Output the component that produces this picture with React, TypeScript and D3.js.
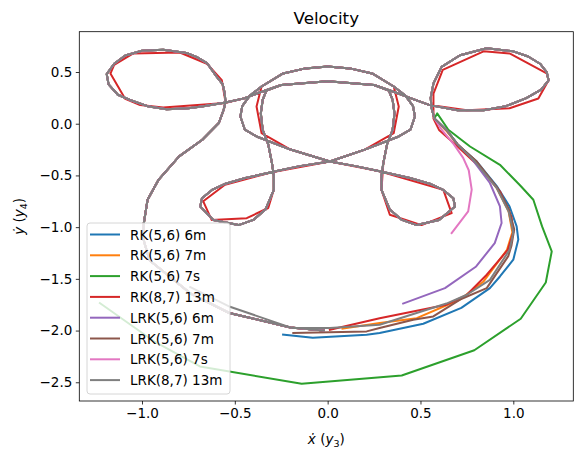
import React, { useEffect, useRef } from 'react';
import * as d3 from 'd3';

type Pt = [number, number];

const seriesNames = [
  'RK(5,6) 6m', 'RK(5,6) 7m', 'RK(5,6) 7s', 'RK(8,7) 13m',
  'LRK(5,6) 6m', 'LRK(5,6) 7m', 'LRK(5,6) 7s', 'LRK(8,7) 13m',
];
const seriesColors = [
  '#1f77b4', '#ff7f0e', '#2ca02c', '#d62728',
  '#9467bd', '#8c564b', '#e377c2', '#7f7f7f',
];

const xTicks = [-1.0, -0.5, 0.0, 0.5, 1.0];
const yTicks = [0.5, 0.0, -0.5, -1.0, -1.5, -2.0, -2.5];

// shared part of the orbit (all solvers agree here)
const openBottom: Pt[] = [[-0.02, -2.0], [-0.2, -1.97], [-0.53, -1.83], [-0.74, -1.64], [-0.96, -1.32], [-0.995, -1.1]];
const sBendLeft: Pt[] = [[-0.99, -0.96], [-0.97, -0.735], [-0.91, -0.54], [-0.8, -0.316], [-0.675, -0.155], [-0.586, 0.007], [-0.56, 0.135]];
const loopLeft: Pt[] = [[-0.55, 0.21], [-0.555, 0.3], [-0.565, 0.38], [-0.6, 0.46], [-0.65, 0.587], [-0.7, 0.64], [-0.76, 0.684], [-0.886, 0.716], [-1.0, 0.705], [-1.09, 0.66], [-1.15, 0.58], [-1.19, 0.48], [-1.18, 0.38], [-1.13, 0.28], [-1.065, 0.23], [-0.97, 0.17], [-0.867, 0.14], [-0.75, 0.15], [-0.67, 0.169], [-0.55, 0.206]];
const arcA: Pt[] = [[-0.45, 0.245], [-0.37, 0.3], [-0.25, 0.375], [0.0, 0.41], [0.25, 0.375], [0.33, 0.32], [0.35, 0.23]];
const downRight: Pt[] = [[0.36, 0.1], [0.35, -0.06], [0.32, -0.2], [0.3, -0.38], [0.29, -0.5], [0.29, -0.64], [0.335, -0.83]];
const lowerRight: Pt[] = [[0.4, -0.93], [0.48, -0.98], [0.6, -0.93], [0.686, -0.8], [0.677, -0.72], [0.623, -0.64], [0.55, -0.58], [0.443, -0.525], [0.28, -0.46], [0.15, -0.41]];
const crossUp: Pt[] = [[0.012, -0.365], [-0.2, -0.25], [-0.383, -0.123], [-0.446, -0.058], [-0.47, 0.07], [-0.46, 0.17], [-0.42, 0.27], [-0.356, 0.36]];
const arcTop: Pt[] = [[-0.24, 0.486], [-0.12, 0.535], [0.0, 0.554], [0.12, 0.535], [0.24, 0.486], [0.356, 0.36]];
const crossDown: Pt[] = [[0.42, 0.27], [0.46, 0.17], [0.47, 0.07], [0.446, -0.058], [0.383, -0.123], [0.2, -0.25], [0.012, -0.365], [-0.15, -0.41]];
const lowerLeft: Pt[] = [[-0.28, -0.46], [-0.443, -0.525], [-0.55, -0.58], [-0.623, -0.64], [-0.677, -0.72], [-0.686, -0.8], [-0.616, -0.93], [-0.48, -0.98], [-0.4, -0.93], [-0.335, -0.83]];
const upLeft: Pt[] = [[-0.29, -0.64], [-0.29, -0.5], [-0.3, -0.38], [-0.32, -0.2], [-0.35, -0.06], [-0.36, 0.1], [-0.35, 0.23]];
const arcB: Pt[] = [[-0.33, 0.32], [-0.25, 0.375], [0.0, 0.41], [0.25, 0.375], [0.37, 0.3], [0.45, 0.245]];
const loopRight: Pt[] = [[0.55, 0.18], [0.7, 0.13], [0.84, 0.13], [0.96, 0.17], [1.07, 0.248], [1.15, 0.33], [1.19, 0.42], [1.18, 0.5], [1.144, 0.58], [1.08, 0.65], [1.0, 0.7], [0.857, 0.73], [0.713, 0.662], [0.614, 0.55], [0.57, 0.39], [0.555, 0.25], [0.56, 0.15], [0.575, 0.05]];

// the 8th-order fixed-step run takes coarse steps through the loops
const redLoopLeft: Pt[] = [[-0.55, 0.21], [-0.57, 0.42], [-0.65, 0.58], [-0.796, 0.689], [-1.047, 0.68], [-1.15, 0.57], [-1.17, 0.485], [-1.09, 0.24], [-1.01, 0.18], [-0.886, 0.157], [-0.553, 0.2]];
const redDownRight: Pt[] = [[0.36, 0.1], [0.35, -0.06], [0.32, -0.2], [0.3, -0.38], [0.29, -0.64]];
const redLowerRight: Pt[] = [[0.335, -0.88], [0.506, -0.98], [0.668, -0.864], [0.623, -0.64], [0.28, -0.46]];
const redCrossUp: Pt[] = [[0.012, -0.365], [-0.2, -0.25], [-0.356, -0.09], [-0.383, 0.167], [-0.356, 0.36]];
const redCrossDown: Pt[] = [[0.383, 0.167], [0.356, -0.09], [0.2, -0.25], [0.012, -0.365]];
const redLowerLeft: Pt[] = [[-0.3, -0.47], [-0.553, -0.59], [-0.67, -0.75], [-0.625, -0.93], [-0.436, -0.913], [-0.32, -0.815], [-0.293, -0.655]];
const redLoopRight: Pt[] = [[0.55, 0.18], [0.75, 0.13], [0.98, 0.15], [1.135, 0.244], [1.19, 0.42], [1.18, 0.486], [0.98, 0.68], [0.84, 0.7], [0.62, 0.52], [0.57, 0.29], [0.57, 0.05]];

// final descent, where the solvers part ways
const tailBlue: Pt[] = [[0.64, -0.06], [0.7, -0.2], [0.8, -0.36], [0.91, -0.6], [0.98, -0.8], [1.018, -0.993], [1.027, -1.12], [1.0, -1.315], [0.928, -1.477], [0.874, -1.59], [0.72, -1.78], [0.515, -1.934], [0.28, -2.024], [0.21, -2.04], [-0.08, -2.07], [-0.24, -2.04]];
const tailOrange: Pt[] = [[0.635, -0.06], [0.7, -0.2], [0.79, -0.35], [0.91, -0.62], [0.975, -0.85], [0.995, -1.05], [0.966, -1.219], [0.84, -1.525], [0.713, -1.7], [0.48, -1.88], [0.28, -1.927], [0.08, -1.98]];
const tailGreen: Pt[] = [[0.59, 0.1], [0.65, -0.058], [0.767, -0.22], [0.928, -0.397], [1.036, -0.595], [1.108, -0.735], [1.155, -0.993], [1.207, -1.235], [1.175, -1.535], [1.04, -1.886], [0.79, -2.19], [0.399, -2.434], [-0.14, -2.515], [-0.688, -2.347], [-0.93, -2.11], [-1.227, -1.734]];
const tailRed: Pt[] = [[0.6, -0.06], [0.7, -0.22], [0.82, -0.42], [0.93, -0.66], [0.99, -0.9], [1.0, -1.05], [0.97, -1.22], [0.857, -1.46], [0.75, -1.654], [0.64, -1.75], [0.28, -1.88], [0.012, -1.992]];
const tailPurple: Pt[] = [[0.64, -0.06], [0.7, -0.2], [0.767, -0.316], [0.874, -0.573], [0.928, -0.8], [0.937, -0.96], [0.9, -1.154], [0.8, -1.38], [0.632, -1.59], [0.407, -1.739]];
const tailBrown: Pt[] = [[0.64, -0.06], [0.7, -0.2], [0.8, -0.36], [0.91, -0.61], [0.975, -0.82], [1.005, -1.02], [0.99, -1.18], [0.973, -1.28], [0.857, -1.59], [0.713, -1.7], [0.569, -1.863], [0.461, -1.896], [0.28, -1.976], [0.21, -2.008], [-0.185, -2.024]];
const tailPink: Pt[] = [[0.614, -0.058], [0.68, -0.2], [0.73, -0.33], [0.76, -0.45], [0.776, -0.638], [0.757, -0.848], [0.668, -1.057]];
const tailGray: Pt[] = [[0.64, -0.06], [0.7, -0.2], [0.785, -0.35], [0.91, -0.62], [0.975, -0.85], [1.0, -1.05], [0.98, -1.219], [0.874, -1.51], [0.75, -1.654], [0.64, -1.739], [0.28, -1.944], [0.012, -1.976], [-0.19, -1.976], [-0.526, -1.77], [-0.74, -1.58]];

const tails = [tailBlue, tailOrange, tailGreen, tailRed, tailPurple, tailBrown, tailPink, tailGray];

const sharedPath: Pt[] = [
  ...openBottom, ...sBendLeft, ...loopLeft, ...arcA, ...downRight, ...lowerRight,
  ...crossUp, ...arcTop, ...crossDown, ...lowerLeft, ...upLeft, ...arcB, ...loopRight,
];
const redPath: Pt[] = [
  ...openBottom, ...sBendLeft, ...redLoopLeft, ...arcA, ...redDownRight, ...redLowerRight,
  ...redCrossUp, ...arcTop, ...redCrossDown, ...redLowerLeft, ...upLeft, ...arcB, ...redLoopRight,
];

const FONT = 'DejaVu Sans, sans-serif';

export default function App() {
  const svgRef = useRef<SVGSVGElement>(null);

  useEffect(() => {
    const svg = d3.select(svgRef.current);
    svg.selectAll('*').remove();

    const left = 79.3, right = 573.3, top = 31.7, bottom = 401;
    const x = d3.scaleLinear().domain([-1.3377, 1.3232]).range([left, right]);
    const y = d3.scaleLinear().domain([-2.681, 0.8898]).range([bottom, top]);

    svg.append('defs').append('clipPath').attr('id', 'plot-clip')
      .append('rect').attr('x', left).attr('y', top)
      .attr('width', right - left).attr('height', bottom - top);

    const line = d3.line<Pt>().x(d => x(d[0])).y(d => y(d[1]));

    const plot = svg.append('g').attr('clip-path', 'url(#plot-clip)');
    seriesNames.forEach((name, i) => {
      const pts = i === 3 ? [...redPath, ...tails[i]] : [...sharedPath, ...tails[i]];
      plot.append('path')
        .datum(pts)
        .attr('d', line)
        .attr('fill', 'none')
        .attr('stroke', seriesColors[i])
        .attr('stroke-width', 2)
        .attr('stroke-linejoin', 'round')
        .attr('stroke-linecap', 'square');
    });

    // axes
    const xAxis = svg.append('g')
      .attr('transform', `translate(0,${bottom})`)
      .call(d3.axisBottom(x).tickValues(xTicks).tickFormat(d3.format('.1f')).tickSize(3.5).tickPadding(3.5));
    const yAxis = svg.append('g')
      .attr('transform', `translate(${left},0)`)
      .call(d3.axisLeft(y).tickValues(yTicks).tickFormat(d3.format('.1f')).tickSize(3.5).tickPadding(3.5));
    [xAxis, yAxis].forEach(g => {
      g.select('.domain').remove();
      g.selectAll('line').attr('stroke', '#000').attr('stroke-width', 0.8);
      g.selectAll('text').attr('font-family', FONT).attr('font-size', 13.5).attr('fill', '#000');
    });

    svg.append('rect')
      .attr('x', left).attr('y', top)
      .attr('width', right - left).attr('height', bottom - top)
      .attr('fill', 'none').attr('stroke', '#000').attr('stroke-width', 0.8);

    // title and axis labels
    svg.append('text')
      .attr('x', (left + right) / 2).attr('y', 24)
      .attr('text-anchor', 'middle')
      .attr('font-family', FONT).attr('font-size', 16.7)
      .text('Velocity');

    const xl = svg.append('text')
      .attr('x', (left + right) / 2).attr('y', 444)
      .attr('text-anchor', 'middle')
      .attr('font-family', FONT).attr('font-size', 13.5);
    xl.append('tspan').attr('font-style', 'italic').text('x\u0307');
    xl.append('tspan').text(' (');
    xl.append('tspan').attr('font-style', 'italic').text('y');
    xl.append('tspan').attr('font-size', 9.5).attr('dy', 3).text('3');
    xl.append('tspan').attr('dy', -3).text(')');

    const yl = svg.append('text')
      .attr('transform', `translate(24,${(top + bottom) / 2}) rotate(-90)`)
      .attr('text-anchor', 'middle')
      .attr('font-family', FONT).attr('font-size', 13.5);
    yl.append('tspan').attr('font-style', 'italic').text('y\u0307');
    yl.append('tspan').text(' (');
    yl.append('tspan').attr('font-style', 'italic').text('y');
    yl.append('tspan').attr('font-size', 9.5).attr('dy', 3).text('4');
    yl.append('tspan').attr('dy', -3).text(')');

    // legend
    const lg = svg.append('g');
    lg.append('rect')
      .attr('x', 87).attr('y', 223).attr('width', 143).attr('height', 171)
      .attr('rx', 3).attr('fill', '#fff').attr('fill-opacity', 0.8)
      .attr('stroke', '#cccccc').attr('stroke-width', 0.8);
    seriesNames.forEach((name, i) => {
      const cy = 234.5 + i * 20.8;
      lg.append('line')
        .attr('x1', 90).attr('x2', 120).attr('y1', cy).attr('y2', cy)
        .attr('stroke', seriesColors[i]).attr('stroke-width', 2);
      lg.append('text')
        .attr('x', 130).attr('y', cy + 5)
        .attr('font-family', FONT).attr('font-size', 13.5)
        .text(name);
    });
  }, []);

  return (
    <svg ref={svgRef} width={584} height={460}
      style={{ position: 'absolute', left: 0, top: 0, background: '#fff' }} />
  );
}
